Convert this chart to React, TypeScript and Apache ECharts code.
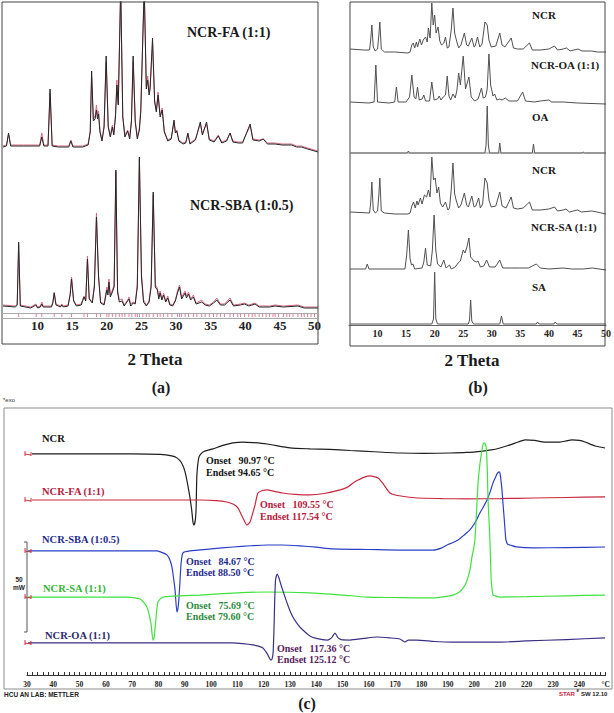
import React, { useEffect, useRef } from 'react';
import * as echarts from 'echarts';

// ---------- Panel (a): XRD, 2θ vs intensity (a.u.) ----------
const faExp: number[][] = [
  [5.0,170],[5.5,171],[5.8,184],[6.1,171],[8,171],[10.3,171],[10.6,180],[10.9,171],[11.5,171],[11.8,228],[12.1,171],[13,170],[14.5,170],[14.8,176],[15.1,170],[16.5,170],[17.3,172],[17.6,185],[17.8,246],[18.05,196],[18.3,198],[18.5,207],[18.65,198],[18.8,203],[19.0,185],[19.3,176],[19.6,190],[19.9,261],[20.2,190],[20.5,180],[20.8,190],[21.0,182],[21.25,200],[21.45,232],[21.65,212],[22.0,330],[22.3,200],[22.6,180],[23.0,186],[23.3,178],[23.55,195],[23.8,261],[24.1,195],[24.4,178],[24.7,187],[24.9,205],[25.4,330],[25.7,228],[25.9,237],[26.1,222],[26.25,228],[26.6,279],[26.9,215],[27.15,205],[27.4,222],[27.7,200],[28.0,207],[28.3,185],[28.8,176],[29.3,178],[29.7,197],[29.9,184],[30.1,186],[30.4,176],[31.0,173],[31.4,174],[31.7,184],[32.0,173],[32.8,177],[33.5,195],[33.8,182],[34.0,186],[34.4,195],[34.8,177],[35.5,175],[36.1,181],[36.6,174],[37.3,176],[37.8,184],[38.2,175],[39.0,174],[39.6,174],[40.7,193],[41.1,177],[42.0,176],[42.6,178],[43.2,173],[44.3,173],[45.3,172],[46.7,172],[47.4,170],[48.1,170],[49.0,168],[50.5,165]
];
const faCalc: number[][] = [
  [5.0,171],[5.5,172],[5.8,183],[6.1,172],[8,172],[10.3,172],[10.6,184],[10.9,172],[11.5,172],[11.8,224],[12.1,172],[13,171],[14.5,171],[14.8,177],[15.1,171],[16.5,171],[17.3,173],[17.6,186],[17.8,240],[18.05,198],[18.3,201],[18.5,212],[18.65,201],[18.8,206],[19.0,187],[19.3,177],[19.6,191],[19.9,255],[20.2,191],[20.5,181],[20.8,192],[21.0,183],[21.25,203],[21.45,237],[21.65,213],[22.0,330],[22.3,201],[22.6,182],[23.0,187],[23.3,180],[23.55,197],[23.8,256],[24.1,197],[24.4,180],[24.7,189],[24.9,208],[25.4,330],[25.7,231],[25.9,241],[26.1,225],[26.25,231],[26.6,273],[26.9,217],[27.15,207],[27.4,225],[27.7,202],[28.0,209],[28.3,186],[28.8,177],[29.3,179],[29.7,195],[29.9,185],[30.1,187],[30.4,177],[31.0,174],[31.4,175],[31.7,183],[32.0,174],[32.8,178],[33.5,193],[33.8,183],[34.0,187],[34.4,193],[34.8,178],[35.5,176],[36.1,182],[36.6,175],[37.3,177],[37.8,184],[38.2,176],[39.0,175],[39.6,175],[40.7,191],[41.1,178],[42.0,177],[42.6,178],[43.2,174],[44.3,174],[45.3,173],[46.7,173],[47.4,171],[48.1,171],[49.0,169],[50.5,166]
];
const sbaExp: number[][] = [
  [5,11],[6.8,10],[7.05,12],[7.26,75],[7.5,11],[9.0,9],[9.75,12],[10.0,9],[10.4,10],[10.6,13],[10.8,10],[12.0,10],[12.2,14],[12.4,24],[12.65,12],[13.3,10],[13.5,12],[13.7,10],[14.4,11],[14.7,22],[14.9,38],[15.2,16],[15.6,11],[16.3,12],[16.7,20],[16.95,16],[17.2,58],[17.45,18],[17.9,14],[18.2,30],[18.5,100],[18.8,40],[19.1,14],[19.6,12],[20.0,27],[20.15,22],[20.3,35],[20.5,20],[20.8,25],[21.05,30],[21.3,147],[21.55,25],[21.8,15],[22.2,16],[22.5,11],[23.0,16],[23.2,18],[23.45,11],[23.8,14],[24.1,13],[24.4,30],[24.7,160],[25.0,40],[25.3,15],[25.7,11],[26.1,15],[26.4,30],[26.7,125],[27.0,30],[27.3,27],[27.5,18],[27.7,24],[27.95,17],[28.2,22],[28.5,15],[28.8,19],[29.1,12],[29.5,11],[29.9,16],[30.2,24],[30.5,30],[30.8,18],[31.3,24],[31.5,19],[31.8,23],[32.1,17],[32.5,20],[32.9,13],[33.7,15],[34.2,12],[34.8,11],[35.4,14],[35.9,17],[36.4,12],[37.0,12],[37.8,17],[38.3,11],[39.3,12],[39.9,13],[40.5,11],[41.4,13],[42.0,10],[43.5,10],[44.3,11],[45.5,10],[47.6,11],[48.5,9],[50.5,9]
];
const sbaCalc: number[][] = [
  [5,12],[6.8,11],[7.05,13],[7.26,72],[7.5,12],[9.0,10],[9.75,13],[10.0,10],[10.4,11],[10.6,15],[10.8,11],[12.0,11],[12.2,15],[12.4,25],[12.65,13],[13.3,11],[13.5,13],[13.7,11],[14.4,12],[14.7,23],[14.9,40],[15.2,17],[15.6,12],[16.3,13],[16.7,21],[16.95,17],[17.2,61],[17.45,19],[17.9,15],[18.2,32],[18.5,104],[18.8,42],[19.1,15],[19.6,13],[20.0,30],[20.15,24],[20.3,38],[20.5,22],[20.8,27],[21.05,32],[21.3,145],[21.55,27],[21.8,17],[22.2,18],[22.5,12],[23.0,17],[23.2,20],[23.45,13],[23.8,15],[24.1,14],[24.4,33],[24.7,158],[25.0,43],[25.3,17],[25.7,12],[26.1,16],[26.4,33],[26.7,122],[27.0,32],[27.3,29],[27.5,20],[27.7,26],[27.95,18],[28.2,24],[28.5,16],[28.8,21],[29.1,13],[29.5,12],[29.9,17],[30.2,26],[30.5,32],[30.8,20],[31.3,26],[31.5,21],[31.8,25],[32.1,18],[32.5,22],[32.9,14],[33.7,17],[34.2,13],[34.8,12],[35.4,15],[35.9,19],[36.4,13],[37.0,13],[37.8,19],[38.3,12],[39.3,13],[39.9,14],[40.5,12],[41.4,14],[42.0,11],[43.5,11],[44.3,12],[45.5,11],[47.6,12],[48.5,10],[50.5,10]
];
const braggPositions: number[] = [
  7.26,9.8,10.6,12.4,13.5,14.9,16.7,17.2,18.5,19.1,20.0,20.3,20.8,21.3,21.8,22.2,22.6,23.2,23.6,24.1,24.4,24.7,25.2,25.7,26.1,26.7,27.3,27.7,28.2,28.8,29.4,30.2,30.5,30.8,31.3,31.8,32.5,33.0,33.7,34.2,34.8,35.4,35.9,36.4,37.0,37.8,38.3,38.9,39.3,39.9,40.5,41.0,41.4,42.0,42.5,43.0,43.5,44.0,44.3,44.8,45.5,46.0,46.4,46.9,47.6,48.1,48.5,49.0,49.5,50.0
];

// ---------- Panel (b): stacked XRD patterns ----------
const ncrTop: number[][] = [
  [5.2,276],[7.5,275],[8.6,275],[8.8,285],[9.0,300],[9.25,278],[9.6,274],[10.0,276],[10.2,288],[10.4,303],[10.65,276],[11.2,273],[13,273],[15.3,272],[15.7,273],[16.0,280],[16.25,282],[16.5,277],[16.8,283],[17.0,278],[17.4,286],[17.7,280],[18.0,285],[18.4,288],[18.7,283],[18.9,297],[19.2,287],[19.5,322],[19.75,300],[20.0,310],[20.25,292],[20.6,298],[20.9,284],[21.2,280],[21.6,282],[21.9,288],[22.2,277],[22.5,278],[22.9,295],[23.2,317],[23.5,292],[23.8,285],[24.2,277],[24.6,280],[25.2,292],[25.6,280],[25.9,279],[26.5,287],[26.9,278],[27.1,279],[27.5,288],[27.9,278],[28.3,281],[28.8,303],[29.2,300],[29.5,285],[29.9,278],[30.7,279],[31.4,292],[31.8,280],[32.3,278],[33.4,287],[33.8,277],[34.5,276],[35.5,276],[36.6,282],[37.1,275],[38.5,275],[40.0,276],[41.0,279],[41.5,275],[42.5,276],[43.1,277],[43.7,274],[45.1,276],[45.8,274],[47.5,274],[48.5,273],[50,273]
];
const ncrOa: number[][] = [
  [5.2,223],[8.5,222],[9.4,223],[9.7,260],[10.0,223],[12,222],[13.0,223],[13.3,238],[13.6,223],[15.0,223],[15.6,228],[16.0,250],[16.4,228],[16.7,226],[17.0,238],[17.3,225],[17.8,226],[18.1,230],[18.4,224],[19.1,224],[19.5,243],[19.9,225],[20.5,226],[20.8,229],[21.1,225],[21.5,228],[21.9,230],[22.2,249],[22.5,229],[22.8,225],[23.2,231],[23.6,227],[23.9,235],[24.2,252],[24.5,240],[25.0,269],[25.4,236],[26.0,248],[26.4,228],[27.0,224],[27.6,226],[28.2,237],[28.5,227],[28.9,228],[29.2,236],[29.5,271],[29.8,240],[30.0,235],[30.2,229],[30.5,231],[30.9,225],[31.4,226],[31.8,225],[32.4,227],[33.0,224],[34.5,224],[35.4,233],[35.9,224],[37.5,223],[38.5,224],[40.0,225],[40.5,223],[42.5,223],[45,222],[50,221]
];
const oaPattern: number[][] = [
  [5.2,172],[15.2,172],[15.4,174],[15.6,172],[28.8,172],[29.0,180],[29.2,219],[29.4,180],[29.6,172],[31.2,172],[31.4,182],[31.6,172],[37.1,172],[37.3,181],[37.5,172],[45.8,172],[46.0,173],[46.2,172],[50,172]
];
const ncrBottom: number[][] = [
  [5.2,113],[8.6,112],[8.8,122],[9.0,143],[9.25,115],[9.6,112],[10.0,114],[10.2,128],[10.4,147],[10.65,114],[11.2,112],[13,111],[15.3,111],[15.7,112],[16.0,119],[16.3,123],[16.6,117],[16.9,124],[17.1,120],[17.5,127],[17.8,121],[18.2,130],[18.6,128],[18.9,135],[19.2,128],[19.5,168],[19.8,145],[20.1,147],[20.4,132],[20.7,138],[21.0,122],[21.4,118],[21.9,123],[22.3,115],[22.6,117],[22.9,135],[23.2,162],[23.5,131],[23.8,124],[24.2,117],[24.6,120],[25.2,132],[25.6,120],[25.9,118],[26.5,129],[26.9,118],[27.2,119],[27.7,127],[28.0,117],[28.4,121],[28.8,147],[29.2,142],[29.5,125],[29.9,118],[30.7,119],[31.4,133],[31.8,119],[32.5,117],[33.4,128],[33.8,117],[34.5,116],[35.5,117],[36.6,123],[37.1,115],[38.5,115],[40.0,116],[41.0,118],[41.5,114],[42.5,115],[43.0,116],[43.6,113],[45.0,115],[45.7,113],[47.5,114],[48.4,113],[50,111]
];
const ncrSa: number[][] = [
  [5.2,56],[7.9,56],[8.2,61],[8.5,56],[14.8,56],[15.1,70],[15.4,95],[15.7,66],[15.95,60],[16.2,61],[16.5,56],[17.8,57],[18.1,63],[18.4,77],[18.7,60],[19.3,59],[19.6,75],[19.9,110],[20.2,75],[20.5,61],[21.1,58],[21.6,65],[22.0,57],[22.6,60],[22.9,56],[23.6,58],[24.1,62],[24.5,64],[25.0,75],[25.3,72],[25.6,77],[26.0,87],[26.3,68],[26.6,66],[26.9,64],[27.3,63],[27.6,64],[28.0,58],[28.6,59],[29.1,65],[29.6,58],[30.6,58],[31.4,65],[31.9,57],[33.5,57],[34.8,57],[36.4,57],[37.8,61],[38.5,57],[40,56],[42.5,57],[44,56],[46,56],[47.6,57],[50,55]
];
const saPattern: number[][] = [
  [5.2,1],[19.5,1],[19.8,6],[20.0,53],[20.2,6],[20.5,1],[25.9,1],[26.1,5],[26.3,25],[26.5,4],[26.8,1],[31.4,1],[31.7,9],[32.0,1],[37.8,1],[38.0,3],[38.3,1],[40.9,1],[41.1,3],[41.4,1],[50,1]
];

// ---------- Panel (c): DSC, temperature (°C) vs heat flow (mW, offset) ----------
const ncrDsc: number[][] = [
  [31.9,122.8],[50,122.8],[70,122.8],[80.6,122.5],[85,121.7],[87,120.6],[88.7,118],[90.1,112.8],[91.6,101.7],[92.6,92],[93.1,85],[93.5,83.3],[94,86],[94.3,92.8],[94.6,111],[95.4,121.1],[96.9,123.9],[100.7,125.6],[104.5,127.5],[108.3,128.9],[112.1,129.4],[116,129.1],[121.3,128.3],[130,126.1],[137.6,125.6],[145,125.3],[152.8,124.7],[162,124],[171.8,123.3],[181,123.1],[190.8,123.3],[197,123.6],[203.4,124.4],[206.5,125],[209.8,126.1],[213.7,127.8],[216.7,129.4],[219.4,130.6],[223,130.3],[227,129.4],[232.7,129.4],[235,130],[237.2,130.6],[240,130.3],[242.2,129.4],[246,127.2],[249.8,126.1]
];
const faDsc: number[][] = [
  [31.9,97.2],[60,97.2],[80,97.2],[95.8,97.2],[102,96.9],[106,96.1],[108.5,94.8],[110.2,92.8],[112.1,87.2],[113.6,83.3],[114.8,85],[116.7,94.4],[117.8,101.1],[119.5,102.5],[121.3,102.8],[124,102],[127.3,101.1],[132,100.3],[137.6,100],[143,100.8],[149,102.8],[152,104.5],[154,106.7],[155.9,108.3],[158,109.8],[160.4,110.6],[163.5,109.4],[165.5,106],[168,101.1],[170,100],[174,99],[178.3,98.3],[188,98],[197.3,97.8],[210,98],[222.4,98.3],[235,98.6],[249.8,98.9]
];
const sbaDsc: number[][] = [
  [30.4,68.9],[50,68.9],[70,68.9],[79.4,68.9],[81.5,68],[83.2,66.7],[84.3,64],[85.1,60],[85.8,53],[86.3,47.2],[87,35],[87.4,37],[87.8,43.3],[88.2,53],[88.6,62.2],[89.3,67.8],[92,68.9],[100,70],[108.3,71.1],[115,71.8],[121.3,72.2],[127,72.2],[133.8,71.7],[140,71],[146.3,70],[160,69.7],[172,69.4],[184.4,69.4],[187.5,70.5],[189.7,72.2],[192,73.6],[193.9,75],[196,77.5],[198.4,80.6],[200.5,85],[202.2,90],[203.6,93.6],[204.9,97.2],[206.1,101.7],[207.2,106.7],[208.2,110],[208.7,111.7],[209.5,112.8],[209.9,111.7],[210.3,107],[210.6,102.8],[211,95],[211.4,87.8],[211.8,80],[212.1,75],[212.8,72.5],[213.7,72.2],[216,71.2],[222.4,70.6],[235,70.8],[249.8,71.1]
];
const saDsc: number[][] = [
  [30.4,43.3],[50,43.3],[68,43.3],[73,42.2],[75.6,37.8],[77.1,28.9],[77.9,19.4],[78.3,20.6],[79,30.6],[79.8,40.6],[81.7,43.3],[95.8,44.4],[110,45.6],[121.3,46.1],[137.6,45.6],[150,44.4],[159.3,43.3],[172,43],[184.4,42.8],[189,43.5],[192,44.4],[194.3,46],[195.8,48.3],[196.9,51],[197.7,54.4],[198.5,59],[199.2,65.6],[199.8,70],[200.3,75],[200.9,90],[201.5,106.7],[202.2,117],[203,125],[203.4,128],[203.8,128.9],[204.2,128.3],[204.6,126.7],[205,115],[205.3,97.2],[205.7,85],[206,75],[206.3,62],[206.5,52.8],[206.9,47],[207.2,44.4],[208.5,43.8],[209.8,43.3],[220,43.5],[235,44],[249.8,44.4]
];
const oaDsc: number[][] = [
  [30.4,17.8],[60,17.8],[90,17.8],[108.3,17.8],[112,17.4],[115.9,16.7],[118,16],[119.7,15],[120.8,13],[121.6,11.1],[122.3,9],[122.8,8.3],[123.3,9.5],[123.6,13],[123.9,25],[124.2,42],[124.5,52.8],[125.1,56.1],[125.8,53.9],[126.8,49],[128.1,43.3],[129.5,37.5],[131.1,32.2],[133,28],[134.9,25],[137.6,21.7],[140,20.3],[144.1,19.4],[145.2,20],[146,21.1],[147.1,23.3],[148.3,20.6],[149.5,19.6],[152.8,19.4],[158,20.3],[163.1,21.1],[168,20.6],[171.8,20],[172.9,18.9],[173.7,18.3],[175,19.4],[178.3,19.4],[185,18.6],[192,18.3],[200,18.3],[209.8,18.3],[220,18.9],[235,19.7],[249.8,20.6]
];

const SERIF = '"Liberation Serif", "DejaVu Serif", serif';
const SANS = '"Liberation Sans", Arial, sans-serif';

function txt(text: string, x: number, y: number, size: number, fill: string, align = 'left', family = SERIF, weight = 'bold') {
  return {
    type: 'text', x, y, z: 100,
    style: { text, fill, font: `${weight} ${size}px ${family}`, textAlign: align, textVerticalAlign: 'middle' },
  };
}
function seg(x1: number, y1: number, x2: number, y2: number, stroke: string, lineWidth = 1) {
  return { type: 'line', z: 90, shape: { x1, y1, x2, y2 }, style: { stroke, lineWidth } };
}
function box(x: number, y: number, width: number, height: number, stroke: string) {
  return { type: 'rect', z: 90, shape: { x, y, width, height }, style: { stroke, fill: 'none', lineWidth: 1 } };
}
function startMark(y: number) {
  return [seg(25, y - 3, 25, y + 2, '#d0303a'), seg(25, y, 31, y + 1, '#d0303a'), seg(31, y - 2, 31, y + 2, '#d0303a')];
}

function line(data: number[][], idx: number, color: string, width = 1, smooth: number | boolean = false) {
  return {
    type: 'line', xAxisIndex: idx, yAxisIndex: idx, data, symbol: 'none', smooth,
    lineStyle: { color, width }, silent: true, animation: false,
  };
}

const C_BLACK = '#1e1e1e';
const C_RED = '#c8283e';
const C_BLUE = '#2b3fc6';
const C_GREEN = '#3fe23f';
const C_PURPLE = '#3a2f86';
const ON = '\u00a0\u00a0';

function buildOption() {
  const xrdLabel = { fontFamily: SERIF, fontWeight: 'bold', color: '#222' };
  return {
    animation: false,
    backgroundColor: '#fff',
    grid: [
      { left: 2, top: 2, width: 316, height: 315 },
      { left: 349, top: 2, width: 257.4, height: 323 },
      { left: 27, top: 408, width: 578.6, height: 267 },
    ],
    xAxis: [
      {
        gridIndex: 0, type: 'value', min: 5, max: 50.5, interval: 5,
        axisLine: { show: false }, axisTick: { show: false }, splitLine: { show: false },
        axisLabel: { ...xrdLabel, fontSize: 13, margin: 2, formatter: (v: number) => (v % 5 === 0 && v > 5 ? String(v) : '') },
      },
      {
        gridIndex: 1, type: 'value', min: 5, max: 50, interval: 5,
        axisLine: { show: true, lineStyle: { color: '#666', width: 1 } }, axisTick: { show: false }, splitLine: { show: false },
        axisLabel: { ...xrdLabel, fontSize: 10, margin: 3, formatter: (v: number) => (v > 5 ? String(v) : '') },
      },
      {
        gridIndex: 2, type: 'value', min: 30, max: 250, interval: 10,
        axisLine: { show: true, lineStyle: { color: '#333', width: 1 } },
        axisTick: { show: true, inside: true, length: 3, lineStyle: { color: '#333' } },
        minorTick: { show: true, splitNumber: 5, length: 3, lineStyle: { color: '#333' } },
        splitLine: { show: false },
        axisLabel: { fontFamily: SERIF, fontWeight: 'bold', fontSize: 7.5, color: '#222', margin: 5, showMaxLabel: true, formatter: (v: number) => (v === 250 ? '°C' : String(v)) },
      },
    ],
    yAxis: [
      { gridIndex: 0, type: 'value', min: 0, max: 315, show: false },
      { gridIndex: 1, type: 'value', min: 0, max: 323, show: false },
      { gridIndex: 2, type: 'value', min: 0, max: 148.3, show: false },
    ],
    series: [
      line(faCalc, 0, '#d86a80', 1),
      line(faExp, 0, '#262626', 1),
      line(sbaCalc, 0, '#d86a80', 1),
      line(sbaExp, 0, '#262626', 1),
      {
        type: 'scatter', xAxisIndex: 0, yAxisIndex: 0, silent: true,
        data: braggPositions.map((p) => [p, 1.5]),
        symbol: 'rect', symbolSize: [1, 3], itemStyle: { color: '#d8607a' },
      },
      line(ncrTop, 1, '#505050', 1),
      line(ncrOa, 1, '#505050', 1),
      line(oaPattern, 1, '#505050', 1),
      line(ncrBottom, 1, '#505050', 1),
      line(ncrSa, 1, '#505050', 1),
      line(saPattern, 1, '#505050', 1),
      line(ncrDsc, 2, C_BLACK, 1.2, 0.2),
      line(faDsc, 2, C_RED, 1.2, 0.2),
      line(sbaDsc, 2, C_BLUE, 1.2, 0.2),
      line(saDsc, 2, C_GREEN, 1.2, 0.2),
      line(oaDsc, 2, C_PURPLE, 1.2, 0.2),
    ],
    graphic: [
      // panel (a)
      box(2, 2, 316, 342, '#444'),
      seg(2, 313.5, 318, 313.5, '#a8a8a8'),
      seg(2, 318.5, 318, 318.5, '#a8a8a8'),
      txt('NCR-FA (1:1)', 187, 32, 14, '#1a1a1a'),
      txt('NCR-SBA (1:0.5)', 190, 205, 14, '#1a1a1a'),
      txt('2 Theta', 155, 359, 17, '#1a1a1a', 'center'),
      txt('(a)', 161, 387, 16, '#1a1a1a', 'center'),
      // panel (b)
      box(350, 2, 255, 344, '#444'),
      seg(350, 153, 605, 153, '#8a8a8a'),
      txt('NCR', 532, 15, 11, '#1a1a1a'),
      txt('NCR-OA (1:1)', 531, 65, 11, '#1a1a1a'),
      txt('OA', 532, 117, 11, '#1a1a1a'),
      txt('NCR', 532, 170, 11, '#1a1a1a'),
      txt('NCR-SA (1:1)', 531, 227, 11, '#1a1a1a'),
      txt('SA', 532, 287, 11, '#1a1a1a'),
      txt('2 Theta', 472, 360, 17, '#1a1a1a', 'center'),
      txt('(b)', 478, 387, 16, '#1a1a1a', 'center'),
      // panel (c)
      txt('*exo', 3, 400, 6, '#333', 'left', SANS, 'normal'),
      box(4, 408, 608, 281, '#8a8a8a'),
      ...startMark(454),
      ...startMark(500),
      ...startMark(551),
      ...startMark(597),
      ...startMark(643),
      seg(24, 542, 27, 542, '#555'),
      seg(27, 542, 27, 632, '#555'),
      seg(24, 632, 27, 632, '#555'),
      txt('50', 19, 579, 6.5, '#222', 'center', SANS, 'bold'),
      txt('mW', 19, 587, 6.5, '#222', 'center', SANS, 'bold'),
      txt('NCR', 42, 438, 10.5, '#111'),
      txt('Onset' + ON + ' 90.97 °C', 206, 460, 10, '#111'),
      txt('Endset 94.65 °C', 206, 472, 10, '#111'),
      txt('NCR-FA (1:1)', 42, 491, 10.5, '#b5203c'),
      txt('Onset' + ON + ' 109.55 °C', 260, 504, 10, '#b5203c'),
      txt('Endset 117.54 °C', 260, 516, 10, '#b5203c'),
      txt('NCR-SBA (1:0.5)', 42, 539, 10.5, '#1f2c8e'),
      txt('Onset' + ON + ' 84.67 °C', 186, 561, 10, '#1f2c8e'),
      txt('Endset 88.50 °C', 186, 572, 10, '#1f2c8e'),
      txt('NCR-SA (1:1)', 43, 588, 10.5, '#34b634'),
      txt('Onset' + ON + ' 75.69 °C', 186, 605, 10, '#2e8a3c'),
      txt('Endset 79.60 °C', 186, 616, 10, '#2e8a3c'),
      txt('NCR-OA (1:1)', 45, 635, 10.5, '#2b2a6e'),
      txt('Onset' + ON + ' 117.36 °C', 277, 648, 10, '#55215e'),
      txt('Endset 125.12 °C', 277, 659, 10, '#55215e'),
      txt('HCU AN LAB: METTLER', 4, 694, 6.5, '#222', 'left', SANS, 'bold'),
      txt('STAR', 559, 694, 6, '#d0203a', 'left', SANS, 'bold'),
      txt('e', 576.5, 690.5, 4.5, '#222', 'left', SANS, 'bold'),
      txt('SW 12.10', 581, 694, 6, '#222', 'left', SANS, 'bold'),
      txt('(c)', 307, 703, 16, '#1a1a1a', 'center'),
    ],
  };
}

export default function App() {
  const ref = useRef<HTMLDivElement>(null);
  useEffect(() => {
    if (!ref.current) return;
    const chart = echarts.init(ref.current, null, { renderer: 'svg' });
    chart.setOption(buildOption() as any);
    return () => chart.dispose();
  }, []);
  return (
    <div
      ref={ref}
      style={{ position: 'absolute', left: 0, top: 0, width: 614, height: 713, background: '#fff' }}
    />
  );
}
